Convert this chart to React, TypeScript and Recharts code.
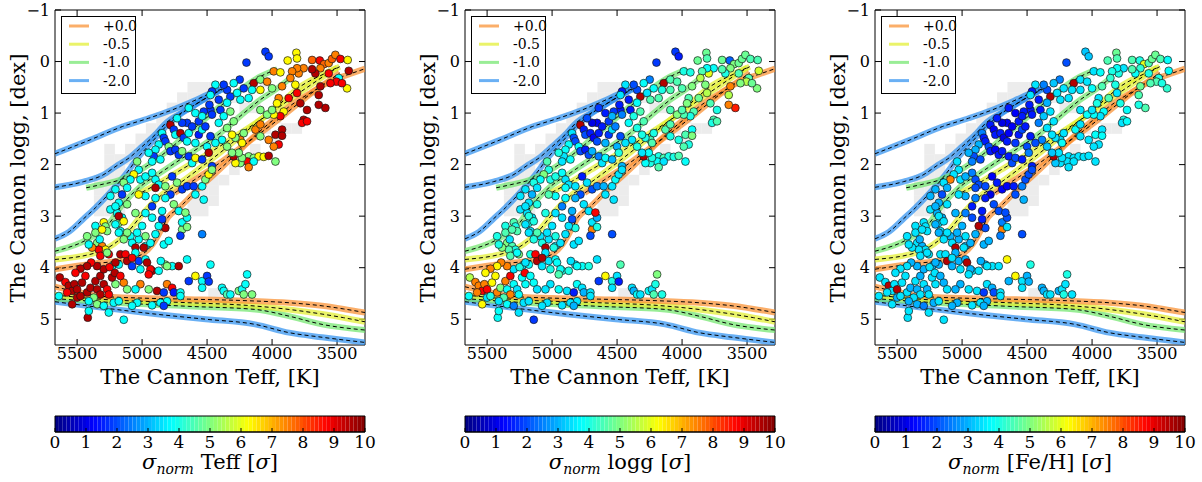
import { ScatterChart, Scatter, XAxis, YAxis, ComposedChart, ReferenceArea } from "recharts";

const SERIF = '"DejaVu Serif", "Liberation Serif", serif';

// ---- axes ----
const TEFF_DOMAIN: [number, number] = [3285, 5670];
const LOGG_DOMAIN: [number, number] = [-1, 5.5];
const TEFF_TICKS = [5500, 5000, 4500, 4000, 3500];
const LOGG_TICKS = [-1, 0, 1, 2, 3, 4, 5];
const SIGMA_TICKS = [0, 1, 2, 3, 4, 5, 6, 7, 8, 9, 10];

// ---- isochrones, [Teff, logg] ----
const orangeRgb1 = [[5670, 4.03], [5400, 3.93], [5150, 3.85], [5000, 3.74], [4920, 3.55], [4860, 3.3], [4800, 3.02], [4720, 2.85], [4600, 2.55], [4450, 2.2], [4300, 1.85], [4150, 1.48], [4000, 1.15], [3850, 0.84], [3700, 0.6], [3530, 0.36], [3400, 0.24], [3285, 0.14]];
const orangeRgb2 = [[4750, 2.55], [4600, 2.3], [4450, 2.05], [4300, 1.78], [4150, 1.5], [4000, 1.22], [3850, 0.92], [3700, 0.62], [3550, 0.35], [3480, 0.22]];
const orangeMs = [[5670, 4.37], [5500, 4.47], [5330, 4.55], [5000, 4.59], [4640, 4.61], [4200, 4.64], [3870, 4.68], [3615, 4.74], [3450, 4.8], [3285, 4.87]];
const yellowRgb1 = [[5670, 3.84], [5320, 3.68], [5115, 3.32], [4990, 2.94], [4860, 2.61], [4705, 2.35], [4550, 2.06], [4400, 1.77], [4245, 1.45], [4090, 1.13], [3935, 0.81], [3780, 0.48], [3600, 0.24], [3500, 0.12]];
const yellowRgb2 = [[5050, 2.6], [4900, 2.4], [4700, 2.1], [4500, 1.8], [4300, 1.48], [4100, 1.15], [3900, 0.8], [3700, 0.45], [3550, 0.2], [3480, 0.1]];
const yellowMs = [[5670, 4.53], [5330, 4.61], [4640, 4.68], [4200, 4.73], [3870, 4.81], [3615, 4.9], [3450, 4.97], [3285, 5.05]];
const greenRgb1 = [[5670, 3.68], [5420, 3.45], [5270, 3.19], [5140, 2.74], [5010, 2.42], [4860, 2.16], [4705, 1.9], [4550, 1.65], [4400, 1.39], [4245, 1.06], [4090, 0.74], [3960, 0.52], [3840, 0.28]];
const greenRgb2 = [[5430, 2.45], [5320, 2.39], [5165, 2.29], [5010, 2.1], [4860, 1.84], [4705, 1.52], [4550, 1.19], [4400, 0.87], [4245, 0.55], [4090, 0.29], [3960, 0.15]];
const greenMs = [[5670, 4.6], [5330, 4.66], [4640, 4.75], [4130, 4.81], [3870, 4.94], [3615, 5.1], [3285, 5.21]];
const blueRgb1 = [[5670, 1.79], [5400, 1.52], [5150, 1.26], [4950, 1.1], [4770, 0.94], [4600, 0.76], [4460, 0.6], [4380, 0.53]];
const blueRgb2 = [[5670, 2.44], [5450, 2.33], [5300, 2.2], [5200, 2.03], [5100, 1.87], [5000, 1.65], [4900, 1.42], [4820, 1.2], [4700, 1.0], [4580, 0.82], [4460, 0.64], [4380, 0.54]];
const blueRgb3 = [[5670, 3.44], [5560, 3.3], [5450, 3.05], [5360, 2.84], [5250, 2.55], [5130, 2.2], [5030, 1.86], [4920, 1.55], [4820, 1.27], [4720, 1.05], [4600, 0.85], [4470, 0.65], [4400, 0.56]];
const blueMs = [[5670, 4.66], [5330, 4.77], [4900, 4.9], [4510, 5.0], [4130, 5.1], [3870, 5.26], [3615, 5.35], [3285, 5.45]];

const ORANGE = "#f98c2a";
const YELLOW = "#e1ee2a";
const GREEN = "#6ee66a";
const BLUE = "#2b8ff0";

const tracks = [
  { pts: blueMs, color: BLUE }, { pts: greenMs, color: GREEN }, { pts: yellowMs, color: YELLOW }, { pts: orangeMs, color: ORANGE },
  { pts: blueRgb1, color: BLUE }, { pts: blueRgb2, color: BLUE }, { pts: blueRgb3, color: BLUE },
  { pts: greenRgb1, color: GREEN }, { pts: greenRgb2, color: GREEN },
  { pts: yellowRgb1, color: YELLOW }, { pts: yellowRgb2, color: YELLOW },
  { pts: orangeRgb1, color: ORANGE }, { pts: orangeRgb2, color: ORANGE },
];

const legendItems = [
  { label: "+0.0", color: ORANGE },
  { label: "-0.5", color: YELLOW },
  { label: "-1.0", color: GREEN },
  { label: "-2.0", color: BLUE },
];

// training set density (grey cells), [Teff, logg]
const trainingCells = [
  [4610, 0.5], [4530, 0.5], [4450, 0.5], [4050, 0.4],
  [4690, 0.7], [4610, 0.7], [4530, 0.7], [4450, 0.7], [4290, 0.7],
  [4770, 0.9], [4690, 0.9], [4210, 0.9], [4130, 0.9],
  [4850, 1.1], [4770, 1.1], [3970, 1.1],
  [4930, 1.3], [4850, 1.3], [3890, 1.3], [3810, 1.3], [4050, 1.3],
  [5010, 1.5], [4930, 1.5], [3970, 1.5],
  [5090, 1.7], [5010, 1.7], [5250, 1.7], [4130, 1.7],
  [5170, 1.9], [5250, 1.9], [5090, 1.9], [4210, 1.9],
  [5170, 2.1], [5250, 2.1], [4290, 2.1],
  [5250, 2.3], [5170, 2.3], [5330, 2.3], [4370, 2.3], [4450, 2.3],
  [5250, 2.5], [5330, 2.5], [4530, 2.5], [4450, 2.5], [5170, 2.5],
  [5250, 2.7], [5170, 2.7], [4610, 2.7], [4530, 2.7], [4450, 2.7], [5330, 2.7],
  [5250, 2.9], [5170, 2.9], [4610, 2.9], [4530, 2.9], [5330, 2.9],
  [4450, 4.5], [4370, 4.5],
];

// stars: [Teff, logg, sigma Teff, sigma logg, sigma [Fe/H]]
const coolGiants = [
  [4051, -0.19, 1.8, 1.8, 3.2], [4026, -0.1, 1.8, 1.5, 3.2], [4197, 0.02, 1.8, 1.8, 2.0], [3880, -0.02, 6.3, 4.8, 4.5],
  [3813, -0.17, 6.3, 4.8, 4.8], [3808, -0.06, 6.3, 4.5, 4.5], [3757, 0.13, 7.5, 3.8, 3.5], [3692, -0.03, 7.8, 4.8, 4.5],
  [3633, -0.02, 8.8, 2.2, 4.0], [3600, 0.05, 7.8, 5.0, 6.0], [3564, 0.03, 7.5, 4.8, 4.5], [3539, -0.05, 7.8, 4.8, 4.8],
  [3513, -0.13, 7.5, 4.8, 4.8], [3474, -0.05, 8.8, 4.5, 4.5], [3418, -0.03, 6.3, 4.5, 3.8], [3410, 0.18, 9.5, 5.8, 3.8],
  [3423, 0.52, 6.3, 5.0, 4.2], [3487, 0.32, 3.8, 4.5, 4.0], [3505, 0.39, 8.8, 5.5, 4.5], [3462, 0.42, 8.8, 4.8, 4.0],
  [3551, 0.42, 8.8, 5.0, 4.5], [3564, 0.23, 8.8, 4.5, 4.0], [3628, 0.13, 7.5, 5.0, 4.2], [3667, 0.23, 9.5, 4.0, 3.8],
  [3692, 0.15, 9.5, 4.5, 4.5], [3795, 0.23, 7.5, 6.0, 4.0], [3808, 0.13, 7.5, 3.8, 3.8], [3846, 0.19, 7.5, 4.5, 4.0],
  [3987, 0.19, 7.5, 4.0, 3.5], [3936, 0.21, 6.3, 4.0, 3.8], [3923, 0.48, 7.5, 5.0, 4.5], [3859, 0.32, 7.5, 5.5, 4.2],
  [3821, 0.45, 6.3, 5.0, 4.0], [3949, 0.71, 7.5, 4.5, 3.5], [3872, 0.71, 8.8, 4.8, 4.5], [3808, 0.61, 8.8, 5.5, 3.5],
  [3782, 0.81, 9.5, 4.5, 4.0], [3731, 0.94, 9.5, 4.0, 3.8], [3757, 1.13, 9.5, 4.5, 4.0], [3641, 0.65, 9.5, 5.5, 4.5],
  [3590, 0.9, 9.5, 8.5, 4.5], [3641, 0.84, 9.5, 7.5, 4.0], [3628, 0.48, 9.5, 7.5, 4.8], [3910, 0.97, 6.3, 4.5, 3.8],
  [3936, 1.06, 8.8, 4.0, 3.5], [3987, 1.03, 6.3, 4.5, 3.8], [3769, 1.19, 8.8, 4.0, 3.5], [3731, 1.16, 8.8, 4.5, 3.8],
  [3923, 1.32, 9.5, 3.8, 3.5],
];

const upperBranch = [
  [4141, 0.42, 9.5, 9.5, 9.5], [4090, 0.35, 5.0, 4.5, 3.5], [4154, 0.55, 3.8, 4.0, 3.5], [4218, 0.52, 1.8, 3.8, 3.5],
  [4249, 0.35, 1.8, 2.5, 2.5], [4295, 0.42, 3.8, 3.8, 3.2], [4346, 0.55, 1.8, 2.0, 2.0], [4321, 0.68, 1.8, 9.5, 9.5],
  [4269, 0.61, 3.8, 3.5, 3.5], [4244, 0.74, 3.8, 4.5, 3.5], [4180, 0.71, 3.8, 4.5, 3.5], [4090, 0.55, 6.3, 4.5, 3.5],
  [4038, 0.39, 7.5, 4.5, 3.5], [4000, 0.52, 5.0, 4.5, 3.8], [4410, 0.74, 1.8, 1.5, 1.5], [4397, 0.94, 1.8, 1.5, 1.5],
  [4474, 0.94, 1.8, 1.5, 1.5], [4090, 0.94, 5.0, 4.5, 3.5], [4038, 1.03, 5.0, 5.0, 3.8], [4000, 0.94, 5.0, 4.5, 3.5],
  [3962, 0.81, 6.3, 5.0, 4.0], [3974, 1.42, 9.5, 4.5, 3.8], [3923, 1.44, 9.5, 5.0, 3.8], [3949, 1.61, 8.8, 4.0, 3.5],
  [3987, 1.65, 7.5, 4.5, 3.5], [4026, 1.52, 7.5, 4.0, 3.5], [4090, 1.45, 5.0, 4.0, 3.5], [4128, 1.32, 7.5, 4.5, 3.8],
  [4090, 1.22, 7.5, 4.5, 3.5], [4218, 1.39, 5.0, 4.0, 3.5], [4244, 1.52, 7.5, 4.5, 3.5], [4282, 1.48, 5.0, 4.0, 3.5],
  [4308, 1.42, 6.3, 4.0, 3.5], [4231, 1.58, 6.3, 4.5, 3.8], [4180, 1.84, 5.0, 4.0, 3.5], [4141, 1.87, 5.0, 4.5, 3.5],
  [4103, 1.84, 6.3, 4.0, 3.5], [4064, 1.85, 6.3, 4.0, 3.5], [4026, 1.83, 9.5, 4.5, 3.5], [3974, 1.94, 5.0, 3.8, 3.5],
  [4192, 1.94, 8.8, 3.8, 3.5], [4141, 1.94, 3.8, 3.5, 3.5], [4180, 2.05, 7.5, 4.5, 3.5], [4244, 1.97, 5.0, 4.0, 3.5],
  [4282, 1.97, 6.3, 3.8, 3.2], [4295, 1.84, 9.5, 9.5, 9.5], [4231, 1.87, 5.0, 4.0, 3.5], [4256, 1.77, 5.0, 3.8, 3.5],
  [4308, 1.77, 5.0, 3.5, 3.2], [4372, 0.45, 1.8, 2.0, 2.5], [4436, 0.45, 3.8, 3.5, 3.5], [4462, 0.58, 1.8, 1.5, 1.5],
  [4346, 0.8, 3.8, 3.8, 3.0], [4372, 1.06, 3.8, 4.0, 3.2], [4321, 0.97, 5.0, 4.5, 3.5], [4410, 1.19, 3.8, 3.8, 2.5],
  [4346, 1.29, 5.0, 4.0, 3.5], [4295, 1.16, 5.0, 4.5, 3.5], [4385, 1.52, 3.8, 3.5, 2.5], [4346, 1.65, 5.0, 4.0, 3.2],
  [4436, 1.58, 3.8, 3.5, 2.0], [4474, 1.45, 1.8, 2.0, 1.5], [4500, 1.65, 3.8, 3.0, 2.0], [4564, 1.42, 1.5, 1.8, 1.5],
  [4590, 1.58, 3.8, 3.0, 1.8], [4538, 1.32, 3.8, 3.5, 2.0],
];

const midBranch = [
  [4474, 0.65, 3.8, 3.5, 3.5], [4482, 0.84, 1.8, 1.5, 1.5], [4526, 0.97, 1.8, 1.8, 1.5], [4590, 1.0, 3.8, 1.5, 1.2],
  [4641, 0.9, 3.8, 1.8, 1.5], [4654, 1.19, 1.8, 1.2, 1.2], [4692, 1.19, 1.8, 1.0, 1.0], [4731, 1.1, 3.8, 2.0, 1.5],
  [4782, 1.23, 9.5, 9.5, 1.5], [4756, 1.32, 1.8, 1.5, 1.2], [4744, 1.42, 3.8, 2.0, 1.5], [4705, 1.39, 9.5, 1.5, 1.5],
  [4680, 1.48, 1.8, 1.2, 1.0], [4654, 1.55, 3.8, 2.0, 1.5], [4641, 1.39, 3.8, 1.5, 1.2], [4615, 1.26, 1.8, 1.5, 1.2],
  [4564, 1.16, 1.8, 1.8, 1.5], [4538, 1.06, 3.8, 3.0, 1.5], [4513, 1.26, 1.8, 2.5, 1.5], [4462, 1.03, 1.8, 2.5, 1.5],
  [4846, 1.39, 3.8, 3.5, 2.5], [4833, 1.48, 1.8, 2.0, 1.5], [4821, 1.55, 1.8, 2.0, 1.5], [4795, 1.65, 5.0, 3.8, 2.0],
  [4872, 1.61, 3.8, 3.8, 3.0], [4897, 1.71, 3.8, 3.8, 3.0], [4910, 1.84, 1.8, 3.5, 2.0], [4949, 1.77, 3.8, 4.0, 3.0],
  [4923, 1.94, 3.8, 3.5, 2.5], [4859, 1.9, 3.8, 3.8, 2.0], [4782, 1.74, 1.8, 2.0, 1.5], [4744, 1.71, 1.8, 1.5, 1.2],
  [4718, 1.81, 1.8, 2.0, 1.5], [4692, 1.74, 5.0, 3.0, 1.5], [4641, 1.84, 1.8, 2.5, 1.5], [4615, 1.97, 3.8, 3.5, 2.0],
  [4590, 1.87, 6.3, 3.8, 2.0], [4538, 1.9, 1.8, 3.0, 1.5], [4487, 1.77, 9.5, 4.0, 2.5], [4462, 2.03, 1.8, 3.0, 1.5],
  [5038, 1.94, 5.0, 4.5, 3.5], [5026, 2.1, 3.8, 4.0, 3.5], [5064, 2.19, 6.3, 5.0, 3.5], [5090, 2.29, 3.8, 3.8, 7.5],
  [5013, 2.29, 3.8, 4.0, 3.5], [4974, 2.23, 3.8, 4.0, 3.0], [4923, 2.16, 3.8, 3.8, 2.5], [4897, 2.29, 3.8, 3.5, 2.0],
  [4872, 2.39, 3.8, 3.5, 2.0], [4897, 2.45, 9.5, 3.8, 2.0], [4821, 2.42, 5.0, 3.5, 2.0], [4769, 2.23, 1.8, 1.5, 1.2],
  [4731, 2.35, 5.0, 3.5, 1.5], [4692, 2.48, 1.8, 2.0, 1.2], [4654, 2.42, 1.8, 2.5, 1.2], [4603, 2.42, 1.8, 3.0, 1.5],
  [4590, 2.58, 3.8, 3.5, 2.0], [4538, 2.42, 3.8, 3.5, 2.5], [4513, 2.29, 5.0, 3.8, 2.0], [4487, 2.19, 6.3, 3.5, 2.0],
  [4462, 2.1, 5.0, 3.5, 2.0], [4782, 2.58, 1.8, 2.0, 1.0], [4821, 2.65, 3.8, 3.0, 1.5], [4897, 2.65, 3.8, 3.8, 2.5],
  [4974, 2.61, 3.8, 3.8, 3.0], [5026, 2.58, 6.3, 4.5, 3.5], [5154, 2.58, 1.8, 3.0, 2.0], [5115, 2.77, 5.0, 4.0, 3.5],
  [5179, 2.74, 3.8, 3.5, 3.0], [4526, 2.68, 3.8, 3.5, 3.0], [4692, 3.26, 5.0, 7.5, 7.5], [4692, 3.12, 3.8, 3.5, 2.5],
  [4538, 3.35, 2.5, 2.0, 2.0], [4654, 3.03, 3.8, 3.0, 2.0], [4718, 2.9, 3.8, 3.5, 2.0], [4756, 2.77, 5.0, 3.5, 2.0],
  [4667, 2.93, 5.0, 8.8, 2.0], [5205, 2.48, 3.8, 3.5, 3.0], [5141, 2.35, 5.0, 4.0, 3.5], [5115, 2.45, 3.8, 3.5, 3.0],
  [5244, 2.61, 3.8, 3.5, 3.0],
];

const lowerBranch = [
  [5359, 3.19, 3.8, 4.0, 3.5], [5295, 3.12, 6.3, 4.5, 3.5], [5282, 3.2, 5.0, 4.0, 3.5], [5269, 3.29, 5.0, 4.5, 3.5],
  [5346, 3.52, 5.0, 5.0, 3.5], [5308, 3.58, 7.5, 4.5, 3.0], [5282, 3.65, 6.3, 4.0, 3.5], [5256, 3.74, 8.8, 5.0, 3.5],
  [5333, 3.65, 8.8, 4.5, 3.5], [5231, 3.97, 3.8, 3.5, 3.0], [5179, 3.94, 3.8, 3.8, 3.0], [5167, 3.74, 9.5, 4.0, 3.5],
  [5128, 3.74, 8.8, 8.8, 3.5], [5115, 3.87, 9.5, 9.5, 9.5], [5077, 3.97, 1.8, 3.5, 3.0], [5026, 3.87, 1.8, 3.5, 3.0],
  [5013, 4.03, 3.8, 4.0, 3.5], [4974, 3.84, 3.8, 3.8, 3.0], [4923, 4.06, 9.5, 4.0, 3.5], [4872, 4.06, 3.8, 4.0, 3.5],
  [4821, 3.94, 5.0, 3.5, 3.0], [4769, 3.97, 3.8, 3.8, 3.5], [4718, 3.97, 9.5, 4.0, 3.5], [4654, 3.84, 3.8, 3.5, 6.3],
  [4833, 3.55, 3.8, 3.5, 3.0], [4795, 3.48, 3.8, 3.5, 3.0], [4897, 3.35, 3.8, 3.5, 3.0], [4705, 3.38, 1.8, 2.0, 2.5],
  [4654, 3.21, 5.0, 4.0, 3.5], [4821, 3.23, 9.5, 4.0, 2.0], [5000, 3.19, 3.8, 3.5, 3.0], [4974, 3.39, 5.0, 4.0, 3.5],
  [5026, 3.45, 3.8, 3.5, 3.0], [5090, 3.39, 3.8, 3.5, 3.0], [5128, 3.35, 6.3, 4.5, 3.5], [5167, 3.29, 3.8, 3.5, 3.5],
  [5077, 3.52, 3.8, 4.0, 3.5], [5051, 3.61, 9.5, 9.5, 9.5], [4974, 3.58, 3.8, 3.5, 3.0], [4936, 3.52, 3.8, 3.5, 3.0],
  [5179, 3.13, 5.0, 4.0, 3.5], [5154, 3.03, 3.8, 3.5, 3.0], [5192, 2.94, 3.8, 3.5, 3.0], [5244, 2.87, 3.8, 3.5, 3.5],
  [5205, 2.81, 3.8, 3.5, 3.0], [4872, 3.19, 3.8, 3.5, 9.5], [5051, 2.94, 5.0, 4.0, 3.0], [4974, 2.94, 3.8, 3.5, 2.5],
  [4923, 3.03, 3.8, 3.5, 2.0], [4923, 2.81, 1.8, 2.5, 1.5], [4846, 2.9, 3.8, 3.0, 1.5], [4846, 3.06, 1.8, 2.0, 1.5],
  [5179, 3.0, 9.5, 4.0, 3.5], [5141, 3.1, 6.3, 4.0, 3.5], [5205, 3.16, 3.8, 3.5, 3.0], [5115, 3.32, 5.0, 4.5, 3.5],
  [5179, 3.32, 3.8, 3.5, 3.0], [5141, 3.45, 5.0, 4.0, 3.5], [5038, 3.32, 3.8, 3.5, 3.0], [4987, 3.61, 9.5, 4.0, 3.5],
  [5051, 3.71, 3.8, 3.5, 3.0], [5077, 3.81, 8.8, 9.5, 3.5], [4856, 3.87, 3.8, 3.5, 3.0],
];

const dwarfClump = [
  [5633, 4.19, 9.5, 5.5, 3.5], [5590, 4.28, 8.8, 7.5, 3.5], [5564, 4.35, 9.5, 7.5, 9.5], [5538, 4.45, 9.5, 8.8, 3.5],
  [5577, 4.48, 8.8, 7.5, 3.5], [5521, 4.32, 9.5, 7.5, 3.5], [5500, 4.42, 9.5, 8.8, 9.5], [5462, 4.29, 9.5, 6.3, 3.5],
  [5436, 4.16, 8.8, 6.3, 3.5], [5423, 4.48, 9.5, 7.5, 3.5], [5397, 4.39, 9.5, 5.0, 3.0], [5359, 4.26, 9.5, 7.5, 3.5],
  [5346, 4.42, 9.5, 3.8, 3.0], [5321, 4.16, 9.5, 8.8, 3.0], [5295, 4.32, 9.5, 3.8, 3.5], [5269, 4.42, 8.8, 3.5, 3.0],
  [5256, 4.52, 8.8, 3.8, 3.5], [5321, 4.52, 9.5, 7.5, 3.5], [5538, 4.71, 9.5, 6.3, 3.5], [5418, 4.97, 9.5, 3.8, 3.5],
  [5372, 4.58, 5.0, 4.5, 3.5], [5410, 4.65, 3.8, 3.5, 3.0], [5346, 4.71, 5.0, 3.8, 3.0], [5295, 4.74, 3.8, 2.5, 2.5],
  [5256, 4.87, 3.8, 3.5, 3.5], [5218, 4.68, 3.8, 3.5, 3.0], [5205, 4.32, 5.0, 3.8, 3.5], [5231, 4.19, 9.5, 3.8, 3.5],
  [5210, 4.1, 9.5, 8.8, 3.5], [5295, 4.03, 9.5, 3.5, 3.0], [5346, 3.97, 9.5, 7.5, 3.0], [5392, 3.9, 8.8, 7.5, 3.0],
  [5423, 3.97, 9.5, 6.3, 3.5], [5474, 4.02, 9.5, 7.5, 3.5], [5513, 4.1, 8.8, 6.3, 3.5], [5250, 3.99, 8.8, 4.0, 3.5],
  [5205, 3.9, 9.5, 3.5, 3.0], [5321, 3.77, 8.8, 4.5, 3.5], [5269, 3.71, 5.0, 3.8, 3.5], [5385, 3.61, 7.5, 5.0, 3.5],
  [5410, 3.55, 3.8, 4.0, 3.5], [5359, 3.32, 5.0, 4.5, 3.5], [5308, 3.26, 6.3, 4.5, 3.5], [5326, 3.45, 3.8, 3.5, 3.0],
  [5423, 3.39, 5.0, 4.0, 3.5], [5500, 4.58, 9.5, 3.5, 3.0], [5474, 4.55, 9.5, 4.0, 3.5], [5410, 4.84, 3.8, 3.8, 3.5],
  [5640, 4.55, 3.8, 3.8, 3.5],
];

const dwarfField = [
  [4962, 3.9, 9.5, 3.8, 9.5], [4936, 4.03, 8.8, 3.8, 3.0], [4949, 4.13, 8.8, 4.5, 3.5], [5013, 4.32, 7.5, 3.5, 3.0],
  [5051, 4.42, 3.8, 3.5, 3.0], [4949, 4.42, 5.0, 3.8, 3.5], [5141, 4.29, 7.5, 3.8, 3.0], [5167, 4.16, 8.8, 3.8, 3.0],
  [5115, 4.42, 5.0, 3.5, 3.5], [4885, 4.45, 9.5, 3.5, 3.5], [4808, 4.32, 7.5, 3.8, 3.5], [4833, 4.48, 1.8, 1.5, 1.8],
  [4769, 4.39, 8.8, 3.5, 3.0], [4756, 4.48, 1.5, 3.0, 2.0], [4705, 4.48, 3.8, 3.5, 3.5], [4808, 3.97, 5.0, 3.8, 3.5],
  [4590, 4.16, 6.3, 6.3, 6.3], [4538, 4.26, 3.8, 4.0, 3.5], [4500, 4.16, 1.8, 3.5, 3.0], [4487, 4.27, 1.8, 1.5, 3.0],
  [4474, 3.94, 3.8, 4.5, 4.0], [4538, 4.39, 3.8, 3.5, 3.5], [4385, 4.39, 3.8, 3.5, 3.0], [4372, 4.45, 3.8, 3.0, 3.0],
  [4346, 4.52, 4.5, 3.8, 3.5], [4321, 4.52, 3.8, 3.5, 3.5], [4256, 4.45, 5.0, 3.8, 3.0], [4231, 4.42, 3.8, 3.5, 3.5],
  [4205, 4.32, 3.8, 4.0, 3.5], [4192, 4.13, 3.8, 5.0, 4.0], [4154, 4.52, 5.0, 4.0, 3.5], [4218, 4.52, 5.0, 4.5, 4.0],
  [4808, 4.65, 3.8, 3.5, 3.0], [4859, 4.68, 3.8, 3.5, 3.5], [5038, 4.68, 3.8, 3.5, 3.0], [5077, 4.74, 3.8, 3.5, 3.0],
  [5179, 4.65, 3.8, 3.5, 3.5], [4833, 4.74, 1.8, 3.0, 3.0], [4923, 4.73, 3.8, 3.5, 3.5], [5141, 5.01, 3.8, 1.8, 3.5],
  [4641, 4.26, 1.8, 1.8, 3.0], [4705, 4.55, 3.8, 3.5, 3.5],
];

const allStars = [...coolGiants, ...upperBranch, ...midBranch, ...lowerBranch, ...dwarfClump, ...dwarfField];

const panels = [
  { sigmaCol: 2, quantity: "Teff" },
  { sigmaCol: 3, quantity: "logg" },
  { sigmaCol: 4, quantity: "[Fe/H]" },
];

const CB_STEPS = Array.from({ length: 80 }, (_, i) => i);

function jet(v: number) {
  const t = Math.min(1, Math.max(0, v / 10));
  const c = (x: number) => Math.round(255 * Math.min(1, Math.max(0, 1.5 - Math.abs(4 * t - x))));
  return `rgb(${c(3)},${c(2)},${c(1)})`;
}

const fmtLogg = (v: number) => (v < 0 ? `\u2212${Math.abs(v)}` : `${v}`);
const blank = () => "";
const tickStyle = { fontSize: 16, fill: "#000", fontFamily: SERIF };
const hidden = () => <g />;

function StarPanel({ sigmaCol, quantity, left }: { sigmaCol: number; quantity: string; left: number }) {
  const stars = allStars.map((s) => ({ teff: s[0], logg: s[1], sigma: s[sigmaCol] }));
  const cells = trainingCells.map(([t, g]) => ({ teff: t, logg: g }));

  return (
    <div style={{ position: "absolute", left, top: 0, width: 410, height: 482 }}>
      <ScatterChart width={410} height={400} margin={{ top: 5, right: 35, bottom: 25, left: 15 }}>
        <XAxis dataKey="teff" type="number" domain={TEFF_DOMAIN} reversed allowDataOverflow ticks={TEFF_TICKS}
          height={30} tickSize={-6} tickMargin={9} tick={tickStyle} stroke="#000" interval={0} />
        <XAxis xAxisId="top" orientation="top" dataKey="teff" type="number" domain={TEFF_DOMAIN} reversed allowDataOverflow
          ticks={TEFF_TICKS} height={5} tickSize={-6} tickFormatter={blank} stroke="#000" interval={0} />
        <YAxis dataKey="logg" type="number" domain={LOGG_DOMAIN} reversed allowDataOverflow ticks={LOGG_TICKS}
          width={40} tickSize={-6} tickMargin={11} tick={tickStyle} tickFormatter={fmtLogg} stroke="#000" interval={0} />
        <YAxis yAxisId="right" orientation="right" dataKey="logg" type="number" domain={LOGG_DOMAIN} reversed allowDataOverflow
          ticks={LOGG_TICKS} width={10} tickSize={-6} tickFormatter={blank} stroke="#000" interval={0} />

        <Scatter data={cells} isAnimationActive={false}
          shape={(p: any) => <rect x={p.cx - 5.3} y={p.cy - 5.3} width={10.6} height={10.6} fill="#ececec" />} />

        {tracks.map((tr, i) => (
          <Scatter key={`c${i}`} data={tr.pts.map(([t, g]) => ({ teff: t, logg: g }))} isAnimationActive={false}
            line={{ stroke: tr.color, strokeWidth: 6, strokeOpacity: 0.7 }} lineJointType="monotoneX" shape={hidden} />
        ))}
        {tracks.map((tr, i) => (
          <Scatter key={`d${i}`} data={tr.pts.map(([t, g]) => ({ teff: t, logg: g }))} isAnimationActive={false}
            line={{ stroke: "#000", strokeWidth: 1, strokeDasharray: "4 3" }} lineJointType="monotoneX" shape={hidden} />
        ))}

        <Scatter data={stars} isAnimationActive={false}
          shape={(p: any) => (
            <circle cx={p.cx} cy={p.cy} r={3.9} fill={jet(p.payload?.sigma ?? p.sigma)} stroke="#1a1a1a" strokeWidth={0.7} />
          )} />
      </ScatterChart>

      <div style={{ position: "absolute", left: 0, top: 400 }}>
        <ComposedChart width={410} height={60} margin={{ top: 16, right: 45, bottom: 8, left: 55 }}>
          <XAxis dataKey="v" type="number" domain={[0, 10]} ticks={SIGMA_TICKS} allowDataOverflow height={20}
            tickSize={-4} tickMargin={8} tick={{ ...tickStyle, fontSize: 17 }} stroke="#000" interval={0} />
          <YAxis dataKey="y" type="number" domain={[0, 1]} hide />
          <Scatter data={[{ v: 0, y: 0 }, { v: 10, y: 1 }]} shape={hidden} isAnimationActive={false} />
          {CB_STEPS.map((i) => (
            <ReferenceArea key={i} x1={(i * 10) / CB_STEPS.length} x2={((i + 1) * 10) / CB_STEPS.length} y1={0} y2={1}
              fill={jet(((i + 0.5) * 10) / CB_STEPS.length)} fillOpacity={1} stroke="none" />
          ))}
          <ReferenceArea x1={0} x2={10} y1={0} y2={1} fill="none" stroke="#000" strokeWidth={1} />
        </ComposedChart>
      </div>

      <svg width={410} height={482} style={{ position: "absolute", left: 0, top: 0, pointerEvents: "none" }}
        fontFamily={SERIF}>
        <text transform="translate(18,178) rotate(-90)" textAnchor="middle" dominantBaseline="central" fontSize={21}>
          The Cannon logg, [dex]
        </text>
        <text x={210} y={384} textAnchor="middle" fontSize={21}>The Cannon Teff, [K]</text>

        <rect x={61.5} y={16.5} width={74} height={77} fill="#fff" stroke="#000" strokeWidth={1} />
        {legendItems.map((it, i) => (
          <g key={it.label}>
            <line x1={69} x2={89} y1={26 + i * 18.2} y2={26 + i * 18.2} stroke={it.color} strokeOpacity={0.7} strokeWidth={3} />
            <text x={103} y={31 + i * 18.2} fontSize={14}>{it.label}</text>
          </g>
        ))}

        <text x={210} y={469} textAnchor="middle" fontSize={21}>
          <tspan fontStyle="italic">σ</tspan>
          <tspan fontStyle="italic" fontSize={14} dy={5}>norm</tspan>
          <tspan dy={-5} dx={7}>{quantity} [</tspan>
          <tspan fontStyle="italic">σ</tspan>
          <tspan>]</tspan>
        </text>
      </svg>
    </div>
  );
}

export default function App() {
  return (
    <div style={{ position: "absolute", left: 0, top: 0, width: 1202, height: 482, background: "#fff" }}>
      {panels.map((p, i) => (
        <StarPanel key={p.quantity} sigmaCol={p.sigmaCol} quantity={p.quantity} left={i * 410} />
      ))}
    </div>
  );
}
